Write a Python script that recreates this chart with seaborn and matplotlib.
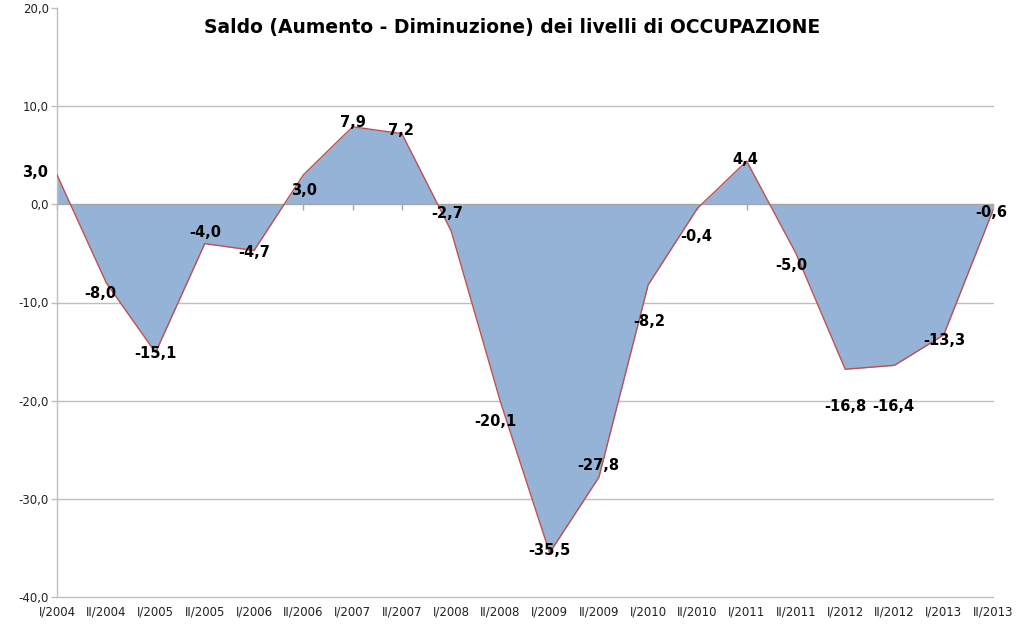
import matplotlib
matplotlib.use("Agg")
import matplotlib.pyplot as plt
import seaborn as sns
import pandas as pd
import numpy as np

categories = ["I/2004", "II/2004", "I/2005", "II/2005", "I/2006", "II/2006",
              "I/2007", "II/2007", "I/2008", "II/2008", "I/2009", "II/2009",
              "I/2010", "II/2010", "I/2011", "II/2011", "I/2012", "II/2012",
              "I/2013", "II/2013"]
values = [3.0, -8.0, -15.1, -4.0, -4.7, 3.0, 7.9, 7.2, -2.7, -20.1,
          -35.5, -27.8, -8.2, -0.4, 4.4, -5.0, -16.8, -16.4, -13.3, -0.6]
y_ticks = [-40, -30, -20, -10, 0, 10, 20]
title = "Saldo (Aumento - Diminuzione) dei livelli di OCCUPAZIONE"

# label offsets in pixels (dx, dy up)
label_offsets = [(-22, 2), (-6, -11), (0, -1), (0, 11), (0, -2), (1, -16),
                 (0, 4), (-1, 3), (-4, 17), (-5, -20), (0, 2), (-1, 12),
                 (1, -37), (-1, -28), (-1, 2), (-5, -12), (0, -37), (-1, -41),
                 (1, -6), (-2, -2)]

sns.set_theme(style="white")
plt.rcParams['font.family'] = ['DejaVu Sans']

df = pd.DataFrame({"x": np.arange(len(categories)), "y": values, "cat": categories})

fig = plt.figure(figsize=(10.24, 6.24), dpi=100)
ax = fig.add_axes([57/1024, 1 - 597/624, (993-57)/1024, (597-8)/624])

ax.fill_between(df["x"], df["y"], 0, color="#95B3D7", linewidth=0, zorder=2)
sns.lineplot(data=df, x="x", y="y", ax=ax, color="#C0504D", linewidth=1.0, zorder=3)

ax.set_xlim(0, len(categories) - 1)
ax.set_ylim(-40, 20)
ax.set_yticks(y_ticks)
ax.set_yticklabels([f"{t:.1f}".replace(".", ",") for t in y_ticks], fontsize=8.5, color="#222222")
for t in y_ticks[:-1]:
    ax.axhline(t, color="#BFBFBF" if t != 0 else "#A6A6A6", linewidth=1.0,
               zorder=1 if t != 0 else 2.5, clip_on=False)
ax.set_xticks(df["x"])
ax.set_xticklabels(categories, fontsize=8.5, color="#222222")
ax.tick_params(axis="x", length=0, pad=6)
ax.tick_params(axis="y", length=4, width=1, color="#BFBFBF", direction="out", pad=2, left=True)
ax.set_xlabel("")
ax.set_ylabel("")

for s in ["top", "right", "bottom"]:
    ax.spines[s].set_visible(False)
ax.spines["left"].set_color("#BFBFBF")
ax.spines["left"].set_linewidth(1.0)

sec = ax.secondary_xaxis(2/3)
sec.set_xticks(df["x"])
sec.set_xticklabels([])
sec.tick_params(axis="x", length=4, width=1, color="#A6A6A6", direction="in")
sec.spines["bottom"].set_visible(False)
sec.spines["top"].set_visible(False)

for xi, yi, (dx, dy) in zip(df["x"], values, label_offsets):
    ax.annotate(f"{yi:.1f}".replace(".", ","), (xi, yi), xytext=(dx * 0.72, dy * 0.72),
                textcoords="offset points", ha="center", va="center",
                fontsize=10.5, fontweight="bold", color="black", zorder=5)

fig.text(512/1024, 1 - 27/624, title, ha="center", va="center",
         fontsize=13.5, fontweight="bold", color="black")

fig.savefig("out.png", dpi=100)
